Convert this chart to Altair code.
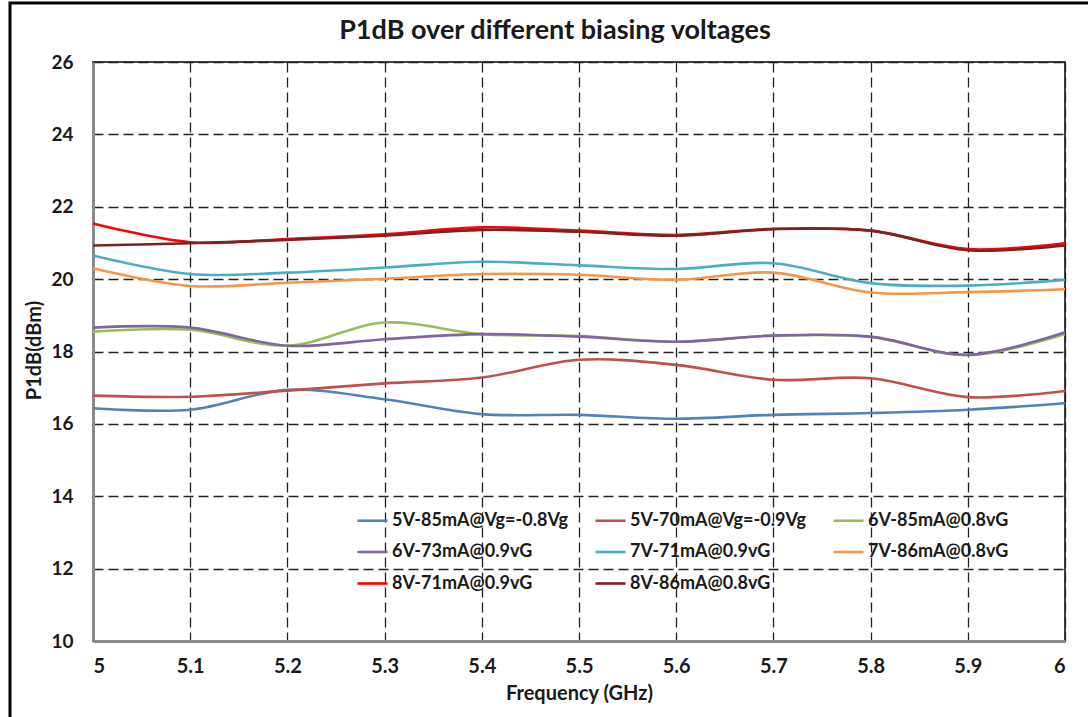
import altair as alt
import pandas as pd

freq = [5.0, 5.1, 5.2, 5.3, 5.4, 5.5, 5.6, 5.7, 5.8, 5.9, 6.0]

s_5v85 = [16.43, 16.39, 16.94, 16.68, 16.27, 16.25, 16.14, 16.25, 16.30, 16.39, 16.57]
s_5v70 = [16.78, 16.75, 16.92, 17.12, 17.28, 17.77, 17.63, 17.22, 17.26, 16.74, 16.91]
s_6v85 = [18.55, 18.60, 18.16, 18.80, 18.48, 18.43, 18.27, 18.44, 18.40, 17.90, 18.48]
s_6v73 = [18.66, 18.66, 18.16, 18.34, 18.48, 18.41, 18.27, 18.44, 18.41, 17.91, 18.53]
s_7v71 = [20.65, 20.14, 20.18, 20.32, 20.48, 20.38, 20.28, 20.44, 19.89, 19.82, 19.98]
s_7v86 = [20.30, 19.81, 19.90, 20.01, 20.14, 20.12, 19.98, 20.18, 19.63, 19.64, 19.72]
s_8v71 = [21.54, 21.02, 21.11, 21.24, 21.43, 21.34, 21.22, 21.39, 21.34, 20.83, 20.99]
s_8v86 = [20.93, 20.99, 21.08, 21.20, 21.36, 21.31, 21.20, 21.38, 21.34, 20.80, 20.93]

names = ["5V-85mA@Vg=-0.8Vg", "5V-70mA@Vg=-0.9Vg", "6V-85mA@0.8vG",
         "6V-73mA@0.9vG", "7V-71mA@0.9vG", "7V-86mA@0.8vG",
         "8V-71mA@0.9vG", "8V-86mA@0.8vG"]
series = [s_5v85, s_5v70, s_6v85, s_6v73, s_7v71, s_7v86, s_8v71, s_8v86]
colors = ["#4F81BD", "#C0504D", "#9BBB59", "#8064A2", "#4BACC6", "#F79646",
          "#FF0000", "#7A2323"]

y_ticks = [10, 12, 14, 16, 18, 20, 22, 24, 26]
x_ticks = freq
title_text = "P1dB over different biasing voltages"

rows = []
for i, (n, vals) in enumerate(zip(names, series)):
    for f, v in zip(freq, vals):
        rows.append({"Frequency": f, "P1dB": v, "Series": n, "order": i})
df = pd.DataFrame(rows)

FONT = "Lato"
TXT = "#1a1a1a"

lines = alt.Chart(df).mark_line(interpolate="catmull-rom", strokeWidth=2.6).encode(
    x=alt.X("Frequency:Q",
            scale=alt.Scale(domain=[5, 6], nice=False),
            axis=alt.Axis(values=x_ticks, title="Frequency (GHz)",
                          labelFontSize=20, labelPadding=15,
                          titleY=58, titleBaseline="alphabetic",
                          labelExpr="datum.value == 5 ? '5' : datum.value == 6 ? '6' : format(datum.value, '.1f')")),
    y=alt.Y("P1dB:Q",
            scale=alt.Scale(domain=[10, 26], nice=False),
            axis=alt.Axis(values=y_ticks, title="P1dB(dBm)",
                          labelFontSize=19, labelPadding=20,
                          titleX=-53, titleY=288, titleAngle=270,
                          titleAlign="center", titleBaseline="alphabetic")),
    color=alt.Color("Series:N",
                    scale=alt.Scale(domain=names, range=colors),
                    legend=alt.Legend(title=None, orient="none", columns=3,
                                      direction="horizontal", gridAlign="all",
                                      legendX=263, legendY=442,
                                      symbolType="stroke", symbolSize=900,
                                      symbolStrokeWidth=2.6,
                                      labelFont=FONT, labelFontSize=18,
                                      labelFontWeight="bold", labelColor=TXT,
                                      labelOffset=3, columnPadding=22,
                                      rowPadding=5.5, labelLimit=300)),
    order=alt.Order("order:Q"),
    detail="Series:N",
)

border = alt.Chart(pd.DataFrame({"a": [0]})).mark_rect(
    fill=None, stroke="black", strokeWidth=3, clip=False
).encode(x=alt.value(-83), x2=alt.value(1010), y=alt.value(-59), y2=alt.value(680))

title = alt.Chart(pd.DataFrame({"t": [title_text]})).mark_text(
    font=FONT, fontSize=27, fontWeight="bold", color=TXT,
    align="center", baseline="alphabetic", clip=False
).encode(text="t:N", x=alt.value(462), y=alt.value(-23))

chart = alt.layer(lines, border, title).properties(
    width=972, height=579,
    autosize=alt.AutoSizeParams(type="none"),
    padding={"left": 93, "top": 62, "right": 23, "bottom": 76},
).configure_view(
    stroke="black", strokeWidth=1.5
).configure_axis(
    labelFont=FONT, labelFontWeight="bold", labelColor=TXT,
    titleFont=FONT, titleFontSize=20, titleFontWeight="bold", titleColor=TXT,
    grid=True, gridColor="#222", gridDash=[10, 5], gridWidth=1.3, gridOpacity=1,
    domainColor="#8a8a8a", domainWidth=3, ticks=False,
)

chart.save("out.html", embed_options={"renderer": "svg", "actions": False})
